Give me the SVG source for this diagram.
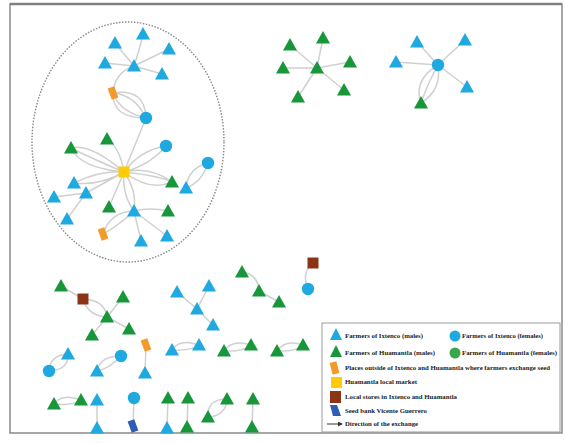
<svg xmlns="http://www.w3.org/2000/svg" xmlns:xlink="http://www.w3.org/1999/xlink" width="565" height="443" viewBox="0 0 565 443">
<style>
.e{fill:none;stroke:#d0d0d0;stroke-width:1.5}
.bl{fill:#1fa9e1}
.gr{fill:#17963a}
.or{fill:#f39a2c}
.ye{fill:#ffcb05}
.br{fill:#8b3418}
.db{fill:#2f5db5}
.lt{font-family:"Liberation Serif",serif;font-weight:bold;font-size:6.5px;fill:#222}
</style>
<defs>
<path id="tri" d="M0,-7 L7,5.5 L-7,5.5 Z"/>
<circle id="cir" r="6.2"/>
<rect id="sq" x="-5.5" y="-5.5" width="11" height="11"/>
<rect id="par" x="-3.5" y="-6" width="7" height="12" transform="rotate(-20)"/>
<marker id="ar" viewBox="0 0 6 6" refX="5" refY="3" markerWidth="5" markerHeight="5" orient="auto"><path d="M0,0 L6,3 L0,6 Z" fill="#333"/></marker>
</defs>
<rect x="0" y="0" width="565" height="443" fill="#fff"/>
<rect x="10" y="4" width="552" height="429" fill="none" stroke="#8a8a8a" stroke-width="1.5"/>
<line x1="10" y1="4" x2="562" y2="4" stroke="#808080" stroke-width="2.5"/>
<ellipse cx="128" cy="142" rx="96" ry="120" fill="none" stroke="#888" stroke-width="1.4" stroke-dasharray="1.5,1.5"/>
<g id="connectors">
<path class="e" d="M134,66 L115,43 M134,66 Q140,48 143,34 M134,66 L169,49 M134,66 L105,63 M134,66 L162,74 M134,66 Q115,72 113,93"/>
<path class="e" d="M113,93 Q112,118 146,118 M113,93 Q120,112 146,118 M113,93 Q135,95 146,118 M113,93 Q145,88 146,118 M146,118 L124,172"/>
<path class="e" d="M124,172 Q120,148 107,139 M124,172 Q90,143 71,148 M124,172 Q95,160 71,148 M124,172 Q80,168 71,148 M124,172 Q140,150 166,146 M124,172 Q150,165 166,146 M124,172 Q150,166 172,182 M124,172 Q150,192 172,182 M124,172 Q160,176 172,182 M124,172 Q100,170 74,183 M124,172 Q100,186 74,183 M124,172 L86,193 M124,172 L109,207 M124,172 Q122,195 134,211 M124,172 Q137,190 134,211"/>
<path class="e" d="M208,163 Q188,168 186,188 M208,163 Q202,182 186,188 M54,197 L86,193 M86,193 L67,219"/>
<path class="e" d="M134,211 Q150,207 168,211 M134,211 Q110,212 103,234 M134,211 Q118,226 103,234 M134,211 L141,241 M134,211 L167,236"/>
<path class="e" d="M317,68 L290,45 M317,68 L323,38 M317,68 L283,68 M317,68 L350,62 M317,68 L298,97 M317,68 L344,90"/>
<path class="e" d="M438,65 L417,42 M438,65 L465,40 M438,65 L396,62 M438,65 L467,87 M438,65 Q413,80 421,103 M438,65 Q427,85 421,103 M438,65 Q442,90 421,103"/>
<path class="e" d="M83,299 L61,286 M83,299 Q105,300 107,317 M83,299 Q88,316 107,317 M107,317 L123,297 M107,317 L92,335 M107,317 L129,329"/>
<path class="e" d="M197,309 L177,292 M197,309 L209,286 M197,309 L213,325 M242,272 Q258,274 259,291 M259,291 L279,302 M313,263 Q301,272 308,289 M146,345 L145,373"/>
<path class="e" d="M68,354 Q50,355 49,371 M68,354 Q69,370 49,371 M121,356 Q100,356 97,371 M121,356 Q109,369 97,371"/>
<path class="e" d="M172,350 Q180,338 199,345 M172,350 Q191,351 199,345 M224,351 Q232,339 251,345 M224,351 Q243,352 251,345 M277,351 Q285,339 303,345 M277,351 Q296,352 303,345 M54,404 Q62,393 81,400 M54,404 Q73,406 81,400"/>
<path class="e" d="M97,400 L97,428 M134,398 L133,426 M168,398 L167,428 M188,398 L187,427 M253,399 L252,427 M227,399 Q207,399 208,417 M227,399 Q226,416 208,417"/>
</g>
<g id="nodes">
<g id="n1"><use href="#tri" class="bl" x="115" y="43"/></g>
<g id="n2"><use href="#tri" class="bl" x="143" y="34"/></g>
<g id="n3"><use href="#tri" class="bl" x="169" y="49"/></g>
<g id="n4"><use href="#tri" class="bl" x="105" y="63"/></g>
<g id="n5"><use href="#tri" class="bl" x="134" y="66"/></g>
<g id="n6"><use href="#tri" class="bl" x="162" y="74"/></g>
<g id="n7"><use href="#par" class="or" x="113" y="93"/></g>
<g id="n8"><use href="#cir" class="bl" x="146" y="118"/></g>
<g id="n9"><use href="#tri" class="gr" x="107" y="139"/></g>
<g id="n10"><use href="#tri" class="gr" x="71" y="148"/></g>
<g id="n11"><use href="#cir" class="bl" x="166" y="146"/></g>
<g id="n12"><use href="#cir" class="bl" x="208" y="163"/></g>
<g id="n13"><use href="#sq" class="ye" x="124" y="172"/></g>
<g id="n14"><use href="#tri" class="gr" x="172" y="182"/></g>
<g id="n15"><use href="#tri" class="bl" x="186" y="188"/></g>
<g id="n16"><use href="#tri" class="bl" x="74" y="183"/></g>
<g id="n17"><use href="#tri" class="bl" x="54" y="197"/></g>
<g id="n18"><use href="#tri" class="bl" x="86" y="193"/></g>
<g id="n19"><use href="#tri" class="bl" x="67" y="219"/></g>
<g id="n20"><use href="#tri" class="gr" x="109" y="207"/></g>
<g id="n21"><use href="#tri" class="bl" x="134" y="211"/></g>
<g id="n22"><use href="#tri" class="gr" x="168" y="211"/></g>
<g id="n23"><use href="#par" class="or" x="103" y="234"/></g>
<g id="n24"><use href="#tri" class="bl" x="141" y="241"/></g>
<g id="n25"><use href="#tri" class="bl" x="167" y="236"/></g>
<g id="n26"><use href="#tri" class="gr" x="290" y="45"/></g>
<g id="n27"><use href="#tri" class="gr" x="323" y="38"/></g>
<g id="n28"><use href="#tri" class="gr" x="283" y="68"/></g>
<g id="n29"><use href="#tri" class="gr" x="317" y="68"/></g>
<g id="n30"><use href="#tri" class="gr" x="350" y="62"/></g>
<g id="n31"><use href="#tri" class="gr" x="298" y="97"/></g>
<g id="n32"><use href="#tri" class="gr" x="344" y="90"/></g>
<g id="n33"><use href="#tri" class="bl" x="417" y="42"/></g>
<g id="n34"><use href="#tri" class="bl" x="465" y="40"/></g>
<g id="n35"><use href="#tri" class="bl" x="396" y="62"/></g>
<g id="n36"><use href="#cir" class="bl" x="438" y="65"/></g>
<g id="n37"><use href="#tri" class="bl" x="467" y="87"/></g>
<g id="n38"><use href="#tri" class="gr" x="421" y="103"/></g>
<g id="n39"><use href="#tri" class="gr" x="61" y="286"/></g>
<g id="n40"><use href="#sq" class="br" x="83" y="299"/></g>
<g id="n41"><use href="#tri" class="gr" x="123" y="297"/></g>
<g id="n42"><use href="#tri" class="gr" x="107" y="317"/></g>
<g id="n43"><use href="#tri" class="gr" x="92" y="335"/></g>
<g id="n44"><use href="#tri" class="gr" x="129" y="329"/></g>
<g id="n45"><use href="#tri" class="bl" x="177" y="292"/></g>
<g id="n46"><use href="#tri" class="bl" x="209" y="286"/></g>
<g id="n47"><use href="#tri" class="bl" x="197" y="309"/></g>
<g id="n48"><use href="#tri" class="bl" x="213" y="325"/></g>
<g id="n49"><use href="#tri" class="gr" x="242" y="272"/></g>
<g id="n50"><use href="#tri" class="gr" x="259" y="291"/></g>
<g id="n51"><use href="#tri" class="gr" x="279" y="302"/></g>
<g id="n52"><use href="#sq" class="br" x="313" y="263"/></g>
<g id="n53"><use href="#cir" class="bl" x="308" y="289"/></g>
<g id="n54"><use href="#par" class="or" x="146" y="345"/></g>
<g id="n55"><use href="#tri" class="bl" x="145" y="373"/></g>
<g id="n56"><use href="#tri" class="bl" x="68" y="354"/></g>
<g id="n57"><use href="#cir" class="bl" x="49" y="371"/></g>
<g id="n58"><use href="#cir" class="bl" x="121" y="356"/></g>
<g id="n59"><use href="#tri" class="bl" x="97" y="371"/></g>
<g id="n60"><use href="#tri" class="bl" x="172" y="350"/></g>
<g id="n61"><use href="#tri" class="bl" x="199" y="345"/></g>
<g id="n62"><use href="#tri" class="gr" x="224" y="351"/></g>
<g id="n63"><use href="#tri" class="gr" x="251" y="345"/></g>
<g id="n64"><use href="#tri" class="gr" x="277" y="351"/></g>
<g id="n65"><use href="#tri" class="gr" x="303" y="345"/></g>
<g id="n66"><use href="#tri" class="gr" x="54" y="404"/></g>
<g id="n67"><use href="#tri" class="gr" x="81" y="400"/></g>
<g id="n68"><use href="#tri" class="bl" x="97" y="400"/></g>
<g id="n69"><use href="#tri" class="bl" x="97" y="428"/></g>
<g id="n70"><use href="#cir" class="bl" x="134" y="398"/></g>
<g id="n71"><use href="#par" class="db" x="133" y="426"/></g>
<g id="n72"><use href="#tri" class="gr" x="168" y="398"/></g>
<g id="n73"><use href="#tri" class="bl" x="167" y="428"/></g>
<g id="n74"><use href="#tri" class="gr" x="188" y="398"/></g>
<g id="n75"><use href="#tri" class="gr" x="187" y="427"/></g>
<g id="n76"><use href="#tri" class="gr" x="227" y="399"/></g>
<g id="n77"><use href="#tri" class="gr" x="208" y="417"/></g>
<g id="n78"><use href="#tri" class="gr" x="253" y="399"/></g>
<g id="n79"><use href="#tri" class="gr" x="252" y="427"/></g>
</g>
<g id="legend">
<rect x="322" y="323" width="238" height="109" fill="#fff" stroke="#999" stroke-width="1"/>
<path d="M330,340 L336,328 L342,340 Z" class="bl"/>
<text class="lt" x="345" y="338" textLength="78" lengthAdjust="spacingAndGlyphs">Farmers of Ixtenco (males)</text>
<circle cx="455" cy="336" r="5.5" class="bl"/>
<text class="lt" x="462" y="338" textLength="81" lengthAdjust="spacingAndGlyphs">Farmers of Ixtenco (females)</text>
<path d="M330,357 L336,345 L342,357 Z" class="gr"/>
<text class="lt" x="345" y="355" textLength="90" lengthAdjust="spacingAndGlyphs">Farmers of Huamantla (males)</text>
<circle cx="455" cy="353" r="5.5" fill="#3aa84a"/>
<text class="lt" x="462" y="355" textLength="95" lengthAdjust="spacingAndGlyphs">Farmers of Huamantla (females)</text>
<rect x="331" y="362" width="7" height="12" class="or" transform="rotate(-15 334.5 368)"/>
<text class="lt" x="345" y="370" textLength="205" lengthAdjust="spacingAndGlyphs">Places outside of Ixtenco and Huamantla where farmers exchange seed</text>
<rect x="331" y="377" width="11" height="11" class="ye"/>
<text class="lt" x="345" y="384" textLength="72" lengthAdjust="spacingAndGlyphs">Huamantla local market</text>
<rect x="330" y="391" width="11" height="12" class="br"/>
<text class="lt" x="345" y="399" textLength="112" lengthAdjust="spacingAndGlyphs">Local stores in Ixtenco and Huamantla</text>
<path d="M330,405 L337,405 L341,416 L333,416 Z" class="db"/>
<text class="lt" x="345" y="413" textLength="82" lengthAdjust="spacingAndGlyphs">Seed bank Vicente Guerrero</text>
<line x1="327" y1="424" x2="342" y2="424" stroke="#333" stroke-width="1" marker-end="url(#ar)"/>
<text class="lt" x="345" y="426" textLength="73" lengthAdjust="spacingAndGlyphs">Direction of the exchange</text>
</g>
</svg>
